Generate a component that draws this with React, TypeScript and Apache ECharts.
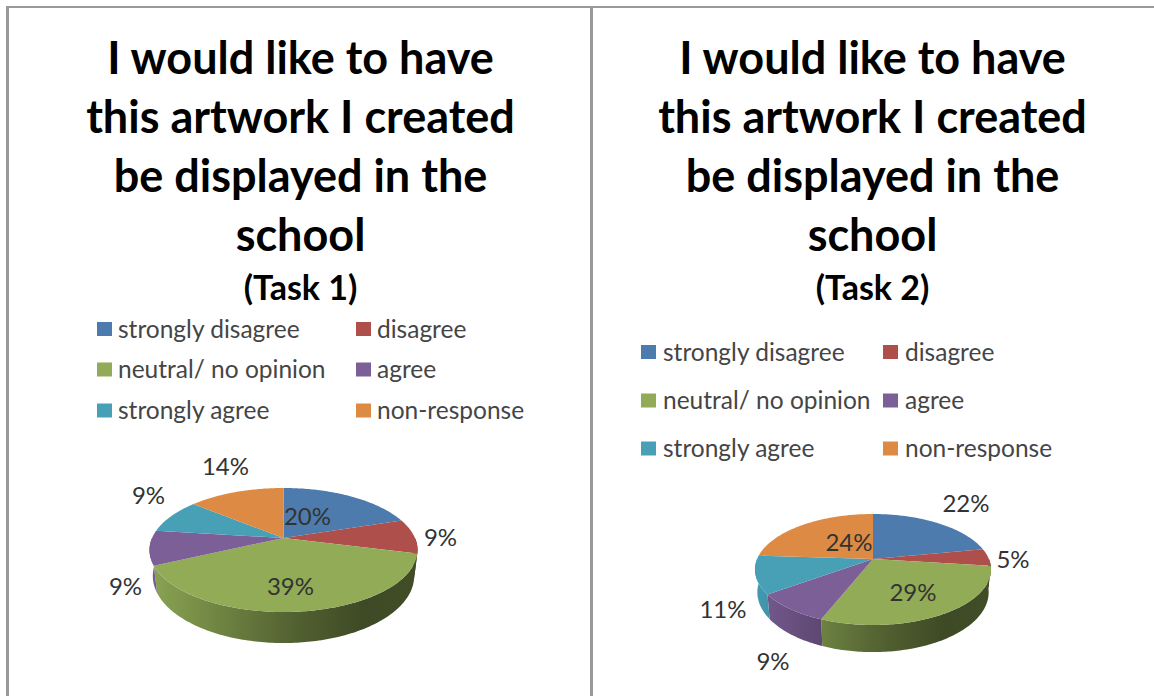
import React, { useEffect, useRef } from "react";
import * as echarts from "echarts";

const categories = ["strongly disagree", "disagree", "neutral/ no opinion", "agree", "strongly agree", "non-response"];
const task1Values = [20, 9, 39, 9, 9, 14];
const task2Values = [22, 5, 29, 9, 11, 24];
const sliceColors = ["#4e7bad", "#ae4f4c", "#91ab56", "#7c5f97", "#48a0b7", "#dd8b44"];
const titleLines = "I would like to have\nthis artwork I created\nbe displayed in the\nschool";

const FONT = "Lato, Carlito, sans-serif";
const LABEL_COLOR = "#333333";
const LEGEND_COLOR = "#454545";

type PieLayout = {
  cx: number; cy: number; rx: number; ry: number; tilt: number; depth: number; taper: number;
  labelOffsets: number[][];
};

// Disc geometry uses a projective tilt, so the pie's apex sits above the rim ellipse's middle.
const task1Pie: PieLayout = {
  cx: 283.5, cy: 538, rx: 131.5, ry: 59.7, tilt: 0.1935, depth: 25, taper: 0.975,
  labelOffsets: [[24, -23], [157, -2], [7, 47], [-158, 47], [-135, -44], [-58, -73]],
};
const task2Pie: PieLayout = {
  cx: 873, cy: 559, rx: 115.9, ry: 53.5, tilt: 0.189, depth: 22, taper: 0.98,
  labelOffsets: [[93, -57], [140, -1], [40, 32], [-100, 101], [-150, 49], [-24, -18]],
};

function shade(hex: string, factor: number) {
  const n = parseInt(hex.slice(1), 16);
  const ch = (s: number) => Math.round(((n >> s) & 255) * factor);
  return `rgb(${ch(16)},${ch(8)},${ch(0)})`;
}

function project(p: PieLayout, turn: number) {
  const a = turn * Math.PI * 2;
  const u = Math.sin(a);
  const v = -Math.cos(a);
  const w = 1 - p.tilt * v;
  return { x: p.cx + (p.rx * u) / w, y: p.cy + (p.ry * v) / w, v, w };
}

function makeRenderItem(values: number[], p: PieLayout) {
  const total = values.reduce((s, x) => s + x, 0);
  const starts: number[] = [];
  values.reduce((s, x) => { starts.push(s); return s + x; }, 0);
  const outerX = p.rx / Math.sqrt(1 - p.tilt * p.tilt);

  return (params: any, api: any) => {
    const i = params.dataIndex;
    const value = api.value(0);
    const t0 = starts[i] / total;
    const t1 = t0 + value / total;
    const steps = Math.max(2, Math.ceil((t1 - t0) * 360));
    const rim: { x: number; y: number; v: number; w: number }[] = [];
    for (let s = 0; s <= steps; s++) rim.push(project(p, t0 + ((t1 - t0) * s) / steps));

    const color = sliceColors[i];
    const children: any[] = [];

    // Outer wall, only along the part of the rim that faces the viewer; the lower edge draws in slightly.
    const front = rim.filter((q) => q.v >= -0.02);
    if (front.length > 1) {
      const lower = front
        .map((q) => [p.cx + (q.x - p.cx) * p.taper, q.y + p.depth / q.w])
        .reverse();
      children.push({
        type: "polygon",
        z2: 1,
        shape: { points: [...front.map((q) => [q.x, q.y]), ...lower] },
        style: {
          fill: new echarts.graphic.LinearGradient(
            p.cx - outerX, 0, p.cx + outerX, 0,
            [
              { offset: 0, color: shade(color, 0.96) },
              { offset: 0.3, color: shade(color, 0.74) },
              { offset: 0.55, color: shade(color, 0.56) },
              { offset: 0.8, color: shade(color, 0.43) },
              { offset: 1, color: shade(color, 0.45) },
            ],
            true
          ),
        },
      });
    }

    children.push({
      type: "polygon",
      z2: 2,
      shape: { points: [[p.cx, p.cy], ...rim.map((q) => [q.x, q.y])] },
      style: { fill: color },
    });

    const [dx, dy] = p.labelOffsets[i];
    children.push({
      type: "text",
      z2: 3,
      style: {
        text: `${value}%`,
        x: p.cx + dx,
        y: p.cy + dy,
        align: "center",
        verticalAlign: "middle",
        fontFamily: FONT,
        fontSize: 24,
        fill: LABEL_COLOR,
      },
    });
    return { type: "group", children };
  };
}

function legendBlock(xs: number[], textGap: number, rows: number[]) {
  return categories.flatMap((name, i) => {
    const x = xs[i % 2];
    const y = rows[Math.floor(i / 2)];
    return [
      { type: "rect", shape: { x, y: y - 7, width: 15, height: 14 }, style: { fill: sliceColors[i] } },
      {
        type: "text",
        style: {
          text: name, x: x + textGap, y: y - 1, verticalAlign: "middle",
          fontFamily: FONT, fontSize: 24.5, fill: LEGEND_COLOR,
        },
      },
    ];
  });
}

function titleFor(center: number, task: string) {
  return {
    text: titleLines,
    subtext: task,
    left: center,
    top: 22,
    textAlign: "center",
    itemGap: 5,
    textStyle: { fontFamily: FONT, fontSize: 45, fontWeight: "bold", lineHeight: 59, color: "#000000" },
    subtextStyle: { fontFamily: FONT, fontSize: 34, fontWeight: "bold", color: "#000000", lineHeight: 36 },
  };
}

const BORDER = "#9a9a9a";

export default function App() {
  const ref = useRef<HTMLDivElement>(null);

  useEffect(() => {
    document.body.style.margin = "0";
    const chart = echarts.init(ref.current!, null, { renderer: "svg" });
    chart.setOption({
      animation: false,
      backgroundColor: "#ffffff",
      title: [titleFor(295.5, "(Task 1)"), titleFor(867.5, "(Task 2)")],
      graphic: [
        { type: "rect", shape: { x: 6, y: 6, width: 1148, height: 2 }, style: { fill: BORDER } },
        { type: "rect", shape: { x: 6, y: 6, width: 3, height: 690 }, style: { fill: BORDER } },
        { type: "rect", shape: { x: 590, y: 6, width: 3, height: 690 }, style: { fill: BORDER } },
        ...legendBlock([97, 356], 21, [329, 369.5, 410.5]),
        ...legendBlock([641, 883], 22, [352, 400.5, 448.5]),
      ],
      series: [
        {
          type: "custom",
          name: "Task 1",
          coordinateSystem: "none",
          data: task1Values.map((v) => [v]),
          renderItem: makeRenderItem(task1Values, task1Pie),
        },
        {
          type: "custom",
          name: "Task 2",
          coordinateSystem: "none",
          data: task2Values.map((v) => [v]),
          renderItem: makeRenderItem(task2Values, task2Pie),
        },
      ],
    });
    return () => chart.dispose();
  }, []);

  return <div ref={ref} style={{ position: "absolute", left: 0, top: 0, width: 1154, height: 696 }} />;
}
